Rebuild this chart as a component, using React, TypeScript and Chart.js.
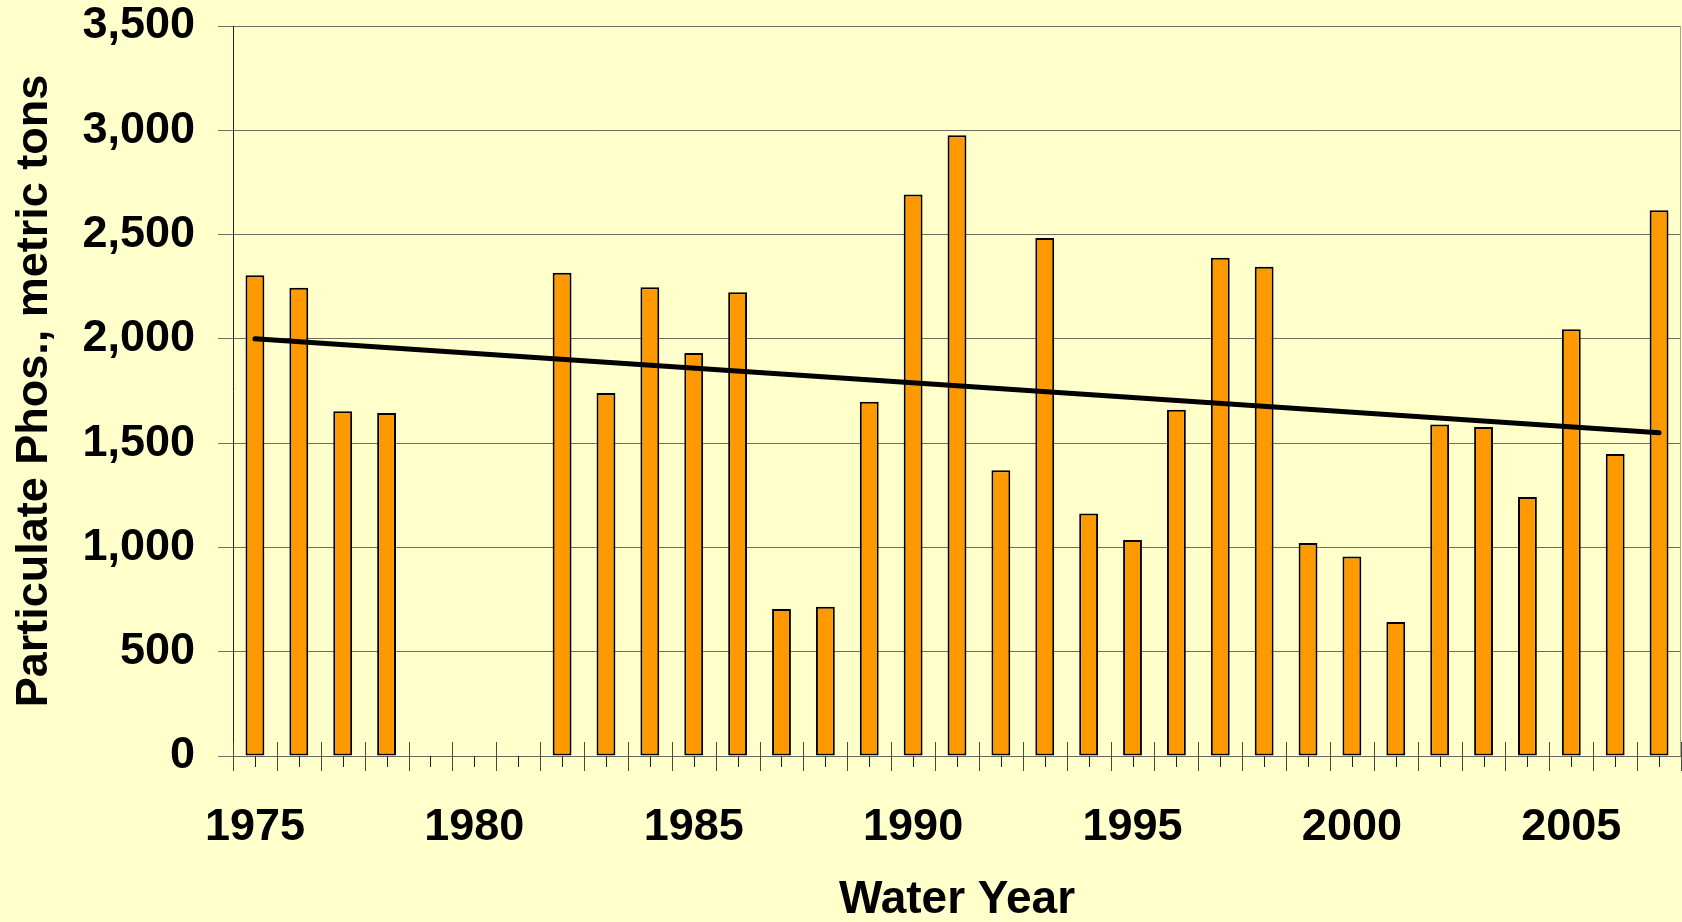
import React, { useEffect, useRef } from 'react';
import { Chart, registerables } from 'chart.js';

Chart.register(...registerables);

// Water years on the category axis
const waterYears = [
  '1975', '1976', '1977', '1978', '1979', '1980', '1981', '1982', '1983', '1984', '1985',
  '1986', '1987', '1988', '1989', '1990', '1991', '1992', '1993', '1994', '1995', '1996',
  '1997', '1998', '1999', '2000', '2001', '2002', '2003', '2004', '2005', '2006', '2007',
];

// Particulate phosphorus load, metric tons (no record 1979-1981)
const particulatePhos = [
  2305, 2245, 1653, 1645, null, null, null, 2317, 1741, 2247, 1932,
  2224, 705, 716, 1699, 2692, 2976, 1370, 2484, 1163, 1036, 1660,
  2389, 2346, 1021, 957, 642, 1589, 1577, 1242, 2046, 1448, 2617,
];

// Linear trend, first and last water year
const trendStart = 2000;
const trendEnd = 1550;

// Year labels shown under the axis
const labeledYears = ['1975', '1980', '1985', '1990', '1995', '2000', '2005'];

const yTicks = [0, 500, 1000, 1500, 2000, 2500, 3000, 3500];

const FONT = '"Liberation Sans", Arial, Helvetica, sans-serif';
const W = 1682;
const H = 922;

// Cross tick marks at category boundaries, short outside marks at category centres,
// plus the thin border on the right of the plot area
const axisMarks = {
  id: 'axisMarks',
  afterDraw(chart: any) {
    const { ctx, chartArea, scales } = chart;
    const x = scales.x;
    const n = waterYears.length;
    const step = (x.getPixelForValue(n - 1) - x.getPixelForValue(0)) / (n - 1);
    const y0 = chartArea.bottom;
    ctx.save();
    ctx.lineWidth = 1;
    ctx.strokeStyle = '#4a4a3a';
    ctx.beginPath();
    for (let i = 0; i <= n; i++) {
      const px = Math.round(x.getPixelForValue(0) - step / 2 + i * step) + 0.5;
      ctx.moveTo(px, y0 - 14);
      ctx.lineTo(px, y0 + 15);
    }
    ctx.stroke();
    ctx.strokeStyle = '#222';
    ctx.beginPath();
    for (let i = 0; i < n; i++) {
      const px = Math.round(x.getPixelForValue(i)) + 0.5;
      ctx.moveTo(px, y0);
      ctx.lineTo(px, y0 + 11);
    }
    ctx.stroke();
    ctx.strokeStyle = '#a8a890';
    ctx.beginPath();
    ctx.moveTo(chartArea.right - 0.5, chartArea.top);
    ctx.lineTo(chartArea.right - 0.5, chartArea.bottom);
    ctx.stroke();
    ctx.restore();
  },
};

export default function App() {
  const canvasRef = useRef<HTMLCanvasElement | null>(null);

  useEffect(() => {
    document.body.style.margin = '0';
    const canvas = canvasRef.current;
    if (!canvas) return;

    const trend = waterYears.map((_, i) =>
      i === 0 ? trendStart : i === waterYears.length - 1 ? trendEnd : null
    );

    const chart = new Chart(canvas, {
      type: 'bar',
      data: {
        labels: waterYears,
        datasets: [
          {
            type: 'line',
            label: 'Trend',
            data: trend,
            borderColor: '#000',
            borderWidth: 5,
            borderCapStyle: 'round',
            pointRadius: 0,
            spanGaps: true,
            fill: false,
            order: 0,
          } as any,
          {
            type: 'bar',
            label: 'Particulate Phos.',
            data: particulatePhos,
            backgroundColor: '#FF9900',
            borderColor: '#000',
            borderWidth: 2,
            borderSkipped: false,
            barPercentage: 0.43,
            categoryPercentage: 1,
            order: 1,
          } as any,
        ],
      },
      options: {
        responsive: false,
        animation: false,
        layout: { padding: { top: 26, right: 1, bottom: 0, left: 0 } },
        plugins: {
          legend: { display: false },
          tooltip: { enabled: false },
          title: { display: false },
        },
        scales: {
          x: {
            type: 'category',
            offset: true,
            grid: { display: false },
            border: { display: true, color: '#6a6a5a', width: 1 },
            ticks: {
              autoSkip: false,
              maxRotation: 0,
              minRotation: 0,
              padding: 37,
              color: '#000',
              font: { family: FONT, size: 45, weight: 'bold' },
              callback: (_v: any, i: number) =>
                labeledYears.includes(waterYears[i]) ? waterYears[i] : '',
            },
            title: {
              display: true,
              text: 'Water Year',
              color: '#000',
              font: { family: FONT, size: 46, weight: 'bold', lineHeight: 0.94 },
              padding: { top: 0, bottom: 0 },
            },
            afterFit: (scale: any) => {
              scale.height = 166;
              scale.paddingLeft = 0;
              scale.paddingRight = 0;
            },
          },
          y: {
            min: 0,
            max: 3500,
            afterBuildTicks: (scale: any) => {
              scale.ticks = yTicks.map((v) => ({ value: v }));
            },
            grid: {
              color: '#6e6e60',
              lineWidth: 1,
              tickLength: 15,
              drawTicks: true,
            },
            border: { display: true, color: '#222', width: 1 },
            ticks: {
              padding: 23,
              color: '#000',
              font: { family: FONT, size: 45, weight: 'bold' },
              callback: (v: any) => Number(v).toLocaleString('en-US'),
            },
            title: {
              display: true,
              text: 'Particulate Phos., metric tons',
              color: '#000',
              font: { family: FONT, size: 45, weight: 'bold' },
              padding: { top: 8, bottom: 0 },
            },
            afterFit: (scale: any) => {
              scale.width = 233;
              scale.paddingTop = 0;
              scale.paddingBottom = 0;
            },
          },
        },
      },
      plugins: [axisMarks],
    });

    return () => chart.destroy();
  }, []);

  return (
    <div style={{ position: 'absolute', left: 0, top: 0, width: W, height: H, background: '#FFFFCC' }}>
      <canvas ref={canvasRef} width={W} height={H} style={{ display: 'block', width: W, height: H }} />
    </div>
  );
}
